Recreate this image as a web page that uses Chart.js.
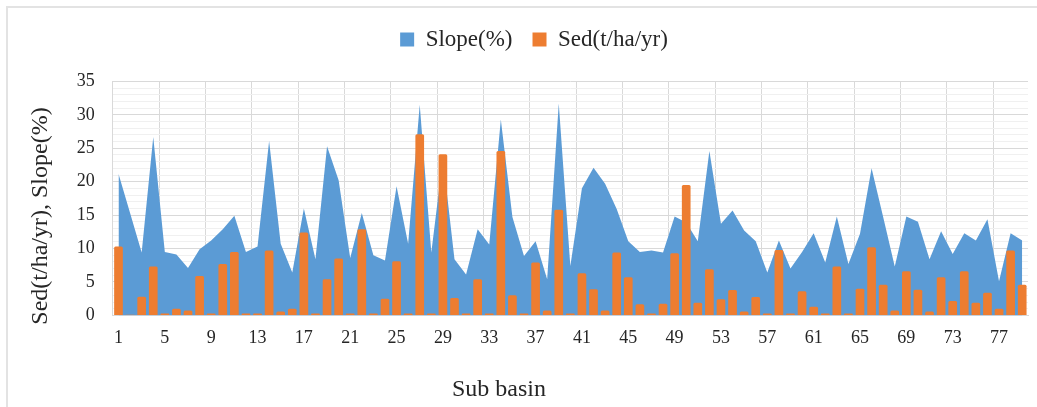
<!DOCTYPE html>
<html>
<head>
<meta charset="utf-8">
<script src="https://cdn.jsdelivr.net/npm/chart.js@4.4.1/dist/chart.umd.min.js"></script>
<style>
  html, body { margin: 0; padding: 0; background: #fff; overflow: hidden; }
  #wrap { position: relative; width: 1037px; height: 407px; }
  #frame { position: absolute; left: 6px; top: 6px; width: 1100px; height: 500px;
           border-left: 2px solid #e3e3e3; border-top: 2px solid #e3e3e3; }
  #sedChart { position: absolute; left: 0; top: 0; }
</style>
</head>
<body>
<div id="wrap">
  <div id="frame"></div>
  <canvas id="sedChart" width="1037" height="407"></canvas>
</div>
<script>
// Sub basins 1..79
const subBasins = [1, 2, 3, 4, 5, 6, 7, 8, 9, 10, 11, 12, 13, 14, 15, 16, 17, 18, 19, 20,
  21, 22, 23, 24, 25, 26, 27, 28, 29, 30, 31, 32, 33, 34, 35, 36, 37, 38, 39, 40,
  41, 42, 43, 44, 45, 46, 47, 48, 49, 50, 51, 52, 53, 54, 55, 56, 57, 58, 59, 60,
  61, 62, 63, 64, 65, 66, 67, 68, 69, 70, 71, 72, 73, 74, 75, 76, 77, 78, 79];

// Slope(%) - area
const slope = [21.2, 15.3, 9.4, 26.7, 9.5, 9.1, 7.1, 9.9, 11.2, 12.9,
  14.9, 9.5, 10.3, 26.1, 10.7, 6.4, 16.0, 8.4, 25.3, 20.2,
  8.6, 15.3, 9.0, 8.2, 19.3, 10.7, 31.5, 9.4, 23.5, 8.4,
  6.1, 12.9, 10.6, 29.3, 14.7, 8.9, 11.1, 5.4, 31.7, 7.4,
  19.0, 22.1, 19.7, 15.9, 11.1, 9.5, 9.7, 9.4, 14.8, 13.9,
  11.1, 24.6, 13.7, 15.7, 12.7, 11.1, 6.4, 11.2, 7.0, 9.5,
  12.3, 7.9, 14.8, 7.7, 12.2, 22.0, 14.7, 7.3, 14.8, 14.0,
  8.4, 12.6, 9.2, 12.3, 11.2, 14.4, 5.1, 12.3, 11.2];

// Sed(t/ha/yr) - columns
const sed = [10.3, 0.1, 2.8, 7.3, 0.3, 1.0, 0.75, 5.9, 0.3, 7.7,
  9.5, 0.3, 0.3, 9.7, 0.6, 1.0, 12.4, 0.3, 5.4, 8.5,
  0.3, 12.9, 0.3, 2.5, 8.1, 0.3, 27.1, 0.3, 24.1, 2.6,
  0.3, 5.4, 0.3, 24.6, 3.0, 0.3, 7.9, 0.75, 15.8, 0.3,
  6.3, 3.9, 0.75, 9.4, 5.7, 1.65, 0.3, 1.75, 9.3, 19.5,
  1.9, 6.9, 2.4, 3.8, 0.6, 2.75, 0.3, 9.8, 0.3, 3.6,
  1.3, 0.3, 7.3, 0.3, 4.0, 10.2, 4.6, 0.75, 6.6, 3.85,
  0.6, 5.7, 2.15, 6.6, 1.9, 3.4, 1.0, 9.7, 4.6];

const yTitle = 'Sed(t/ha/yr), Slope(%)';
const xTitle = 'Sub basin';
const serif = '"Liberation Serif", "Times New Roman", serif';

// axis titles drawn where the original places them
const axisTitles = {
    id: 'axisTitles',
    afterDraw(chart) {
        const ctx = chart.ctx;
        ctx.save();
        ctx.fillStyle = '#262626';
        ctx.font = '24px ' + serif;
        ctx.textAlign = 'center';
        ctx.textBaseline = 'middle';
        ctx.fillText(xTitle, 499, 390);
        ctx.translate(41, 216);
        ctx.rotate(-Math.PI / 2);
        ctx.fillText(yTitle, 0, 0);
        ctx.restore();
    }
};

const ctx = document.getElementById('sedChart').getContext('2d');
new Chart(ctx, {
    data: {
        labels: subBasins,
        datasets: [{
            type: 'line',
            label: 'Slope(%)',
            data: slope,
            backgroundColor: '#5B9BD5',
            borderColor: '#5B9BD5',
            borderWidth: 0,
            fill: 'origin',
            pointRadius: 0,
            tension: 0,
            order: 2
        }, {
            type: 'bar',
            label: 'Sed(t/ha/yr)',
            data: sed,
            backgroundColor: '#ED7D31',
            borderRadius: 1.5,
            categoryPercentage: 1,
            barPercentage: 0.75,
            order: 1
        }]
    },
    options: {
        responsive: false,
        animation: false,
        layout: { padding: { left: 40, right: 9, top: 8, bottom: 46 } },
        plugins: {
            // empty title only keeps the gap between legend and plot
            title: { display: true, text: '', weight: 500, padding: 0, font: { size: 17 } },
            legend: {
                position: 'top',
                labels: {
                    color: '#262626',
                    font: { family: serif, size: 23 },
                    boxWidth: 14,
                    boxHeight: 14,
                    padding: 20,
                    sort: (a, b) => a.datasetIndex - b.datasetIndex
                }
            },
            tooltip: { enabled: false }
        },
        scales: {
            x: {
                offset: true,
                grid: {
                    offset: true,
                    drawTicks: false,
                    color: c => (c.index % 4 === 0 ? '#d9d9d9' : 'rgba(0,0,0,0)')
                },
                border: { color: '#d9d9d9' },
                ticks: {
                    autoSkip: false,
                    maxRotation: 0,
                    padding: 12,
                    color: '#262626',
                    font: { family: serif, size: 18 },
                    callback: (v, i) => (i % 4 === 0 ? subBasins[i] : '')
                }
            },
            y: {
                min: 0,
                max: 35,
                afterFit: s => { s.width = 72.7; },
                grid: {
                    drawTicks: false,
                    color: c => (c.tick && c.tick.value % 5 === 0 ? '#d9d9d9' : '#f0f0f0')
                },
                border: { color: '#d9d9d9' },
                ticks: {
                    stepSize: 1,
                    autoSkip: false,
                    padding: 18,
                    color: '#262626',
                    font: { family: serif, size: 18 },
                    callback: v => (v % 5 === 0 ? v : '')
                }
            }
        }
    },
    plugins: [axisTitles]
});
</script>
</body>
</html>
